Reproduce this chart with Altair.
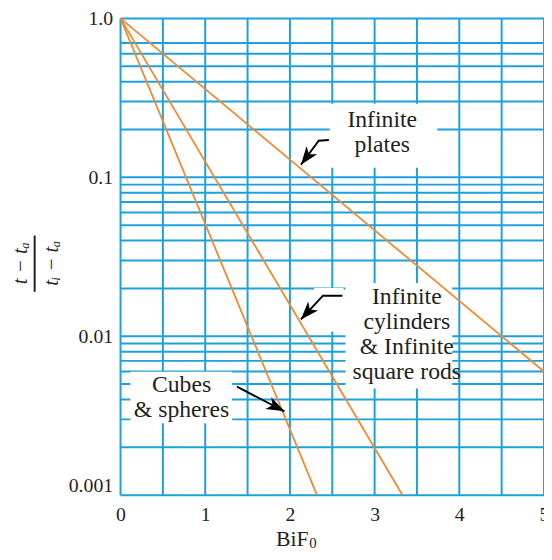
import altair as alt
import pandas as pd

# ---- chart data ----
plates_x = [0.0, 5.0]
plates_y = [1.0, 0.006]
cyl_x = [0.0, 3.33]
cyl_y = [1.0, 0.001]
cube_x = [0.0, 2.32]
cube_y = [1.0, 0.001]

x_ticks = [0, 1, 2, 3, 4, 5]
y_ticks = [1.0, 0.1, 0.01, 0.001]
x_grid = [0, 0.5, 1, 1.5, 2, 2.5, 3, 3.5, 4, 4.5, 5]
y_grid = [1.0, 0.7, 0.6, 0.5, 0.4, 0.3, 0.2,
          0.1, 0.09, 0.08, 0.07, 0.06, 0.05, 0.04, 0.03, 0.02,
          0.01, 0.009, 0.008, 0.007, 0.006, 0.005, 0.004, 0.003, 0.002, 0.001]

# ---- annotations ----
label_text = ["Infinite\nplates", "Infinite\ncylinders\n& Infinite\nsquare rods", "Cubes\n& spheres"]
label_x = [3.09, 3.38, 0.72]
label_y = [0.2074, 0.01603, 0.00449]

box_x1 = [2.47, 2.657, 2.284, 0.1166]
box_x2 = [3.74, 3.916, 2.634, 1.317]
box_y1 = [0.29, 0.0216, 0.0201, 0.005975]
box_y2 = [0.115, 0.0047, 0.0107, 0.00284]

arrow_id = ["p", "p", "p", "c", "c", "c", "s", "s"]
arrow_ord = [0, 1, 2, 0, 1, 2, 0, 1]
arrow_x = [2.46, 2.34, 2.13, 2.62, 2.39, 2.13, 1.375, 1.935]
arrow_y = [0.172, 0.170, 0.120, 0.018, 0.018, 0.01276, 0.00482, 0.00337]

head_x = [2.13, 2.13, 1.935]
head_y = [0.120, 0.01276, 0.00337]
head_angle = [217, 222, 117]

GRID = "#1da1de"
ORANGE = "#ef8a33"
INK = "#231f20"
FONT = "Liberation Serif, Times New Roman, Times, DejaVu Serif, serif"

curves = pd.DataFrame({
    "x": plates_x + cyl_x + cube_x,
    "y": plates_y + cyl_y + cube_y,
    "s": ["plates"] * 2 + ["cyl"] * 2 + ["cube"] * 2,
})

xs = alt.Scale(domain=[0, 5], nice=False, zero=False)
ys = alt.Scale(type="log", domain=[0.001, 1], nice=False)

x_axis = alt.Axis(values=x_ticks, grid=False, domain=False, ticks=False, format="d",
                  labelFont=FONT, labelFontSize=20, labelColor=INK,
                  labelPadding=10, labelFlush=False, title=None)
y_axis = alt.Axis(values=y_ticks, grid=False, domain=False, ticks=False,
                  labelFont=FONT, labelFontSize=20, labelColor=INK,
                  labelPadding=8, labelOverlap=False, labelFlush=False,
                  format="~g",
                  labelExpr="datum.value >= 0.99 ? '1.0' : datum.label",
                  labelBaseline={"condition": {"test": "datum.value < 0.002", "value": "bottom"},
                                 "value": "middle"},
                  title=None)

vgrid = alt.Chart(pd.DataFrame({"g": x_grid})).mark_rule(color=GRID, strokeWidth=2).encode(
    x=alt.X("g:Q", scale=xs, axis=x_axis))
hgrid = alt.Chart(pd.DataFrame({"g": y_grid})).mark_rule(color=GRID, strokeWidth=2).encode(
    y=alt.Y("g:Q", scale=ys, axis=y_axis))

boxes = alt.Chart(pd.DataFrame({"x1": box_x1, "x2": box_x2, "y1": box_y1, "y2": box_y2})).mark_rect(
    color="white").encode(
    x=alt.X("x1:Q", scale=xs), x2="x2:Q", y=alt.Y("y1:Q", scale=ys), y2="y2:Q")

lines = alt.Chart(curves).mark_line(color=ORANGE, strokeWidth=1.8).encode(
    x=alt.X("x:Q", scale=xs), y=alt.Y("y:Q", scale=ys), detail="s:N")

labels = alt.Chart(pd.DataFrame({"t": label_text, "x": label_x, "y": label_y})).mark_text(
    font=FONT, fontSize=24, color=INK, align="center", baseline="alphabetic",
    lineBreak="\n", lineHeight=25.5).encode(
    x=alt.X("x:Q", scale=xs), y=alt.Y("y:Q", scale=ys), text="t:N")

shafts = alt.Chart(pd.DataFrame({"id": arrow_id, "o": arrow_ord, "x": arrow_x, "y": arrow_y})).mark_line(
    color="black", strokeWidth=2).encode(
    x=alt.X("x:Q", scale=xs), y=alt.Y("y:Q", scale=ys), detail="id:N", order="o:Q")

heads = alt.Chart(pd.DataFrame({"x": head_x, "y": head_y, "a": head_angle})).mark_point(
    shape="M0,0L-0.55,1.5L0,1.1L0.55,1.5Z", filled=True, color="black", opacity=1,
    size=600, strokeWidth=0).encode(
    x=alt.X("x:Q", scale=xs), y=alt.Y("y:Q", scale=ys), angle=alt.Angle("a:Q", scale=None))

one = alt.Data(values=[{}])
ytitle_num = alt.Chart(one).mark_text(text="t − tₐ", font=FONT, fontStyle="italic", fontSize=21,
                                       color=INK, angle=270, align="center", baseline="middle").encode(
    x=alt.value(-101), y=alt.value(248))
ytitle_den = alt.Chart(one).mark_text(text="tᵢ − tₐ", font=FONT, fontStyle="italic", fontSize=21,
                                       color=INK, angle=270, align="center", baseline="middle").encode(
    x=alt.value(-69), y=alt.value(248))
ytitle_bar = alt.Chart(one).mark_rule(color=INK, strokeWidth=2).encode(
    x=alt.value(-87), y=alt.value(220), y2=alt.value(277))
xtitle = alt.Chart(one).mark_text(text="BiF", font=FONT, fontSize=22, color=INK,
                                  align="center", baseline="alphabetic").encode(
    x=alt.value(174), y=alt.value(534))
xtitle_sub = alt.Chart(one).mark_text(text="0", font=FONT, fontSize=15, color=INK,
                                      align="center", baseline="alphabetic").encode(
    x=alt.value(195), y=alt.value(537))

chart = alt.layer(vgrid, hgrid, boxes, lines, labels, shafts, heads,
                  ytitle_num, ytitle_den, ytitle_bar, xtitle, xtitle_sub).properties(
    width=429, height=483,
    autosize=alt.AutoSizeParams(type="none"),
    padding={"left": 114, "top": 7, "right": 0, "bottom": 54},
    background="white",
).configure_view(stroke=None)

chart.save("out.html", embed_options={"renderer": "svg", "actions": False})
